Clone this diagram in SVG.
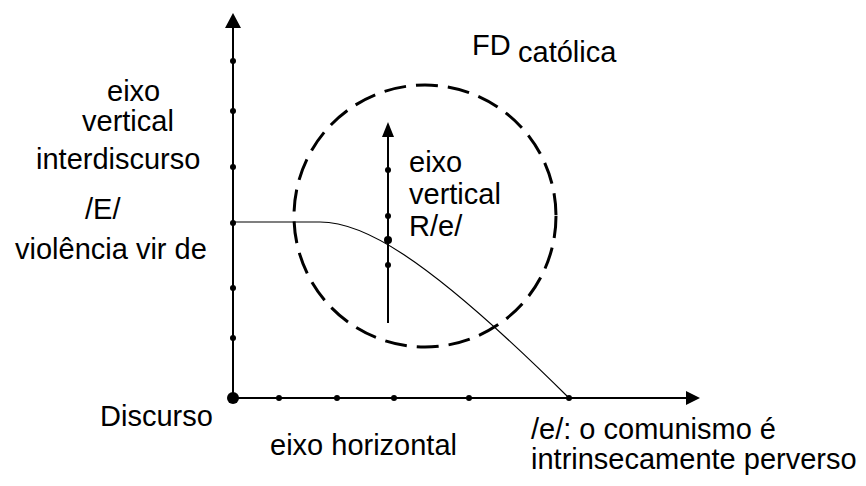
<svg xmlns="http://www.w3.org/2000/svg" width="866" height="486" viewBox="0 0 866 486">
<style>
text{font-family:"Liberation Sans",Arial,sans-serif;font-size:29px;fill:#000}
.axis{stroke:#000;stroke-width:2;fill:none}
.dot{fill:#000}
</style>
<rect width="866" height="486" fill="#fff"/>
<g id="connectors">
<line class="axis" x1="233" y1="398" x2="233" y2="26"/>
<polygon points="233,13 225,28 241,28" fill="#000"/>
<line class="axis" x1="233" y1="398" x2="688" y2="398"/>
<polygon points="700,398 686,391 686,405" fill="#000"/>
<line class="axis" x1="388" y1="323" x2="388" y2="134"/>
<polygon points="388,122 382,137 394,137" fill="#000"/>
<path d="M233,222 L320,222 C360,222 420,250 569,398" fill="none" stroke="#000" stroke-width="1.2"/>
</g>
<g id="circle-fd">
<circle cx="425" cy="216" r="131" fill="none" stroke="#000" stroke-width="3" stroke-dasharray="22 10"/>
</g>
<g id="dots">
<circle class="dot" cx="233" cy="61" r="3"/>
<circle class="dot" cx="233" cy="111" r="3"/>
<circle class="dot" cx="233" cy="167" r="3"/>
<circle class="dot" cx="233" cy="223" r="3"/>
<circle class="dot" cx="233" cy="288" r="3"/>
<circle class="dot" cx="233" cy="338" r="3"/>
<circle class="dot" cx="233" cy="398" r="6"/>
<circle class="dot" cx="279" cy="398" r="3"/>
<circle class="dot" cx="337" cy="398" r="3"/>
<circle class="dot" cx="394" cy="398" r="3"/>
<circle class="dot" cx="469" cy="398" r="3"/>
<circle class="dot" cx="569" cy="398" r="3"/>
<circle class="dot" cx="388" cy="170" r="3"/>
<circle class="dot" cx="388" cy="216" r="3"/>
<circle class="dot" cx="388" cy="240" r="4"/>
<circle class="dot" cx="388" cy="265" r="3"/>
</g>
<g id="label-left">
<text x="107" y="101">eixo</text>
<text x="82" y="131">vertical</text>
<text x="36" y="169">interdiscurso</text>
<text x="85" y="219">/E/</text>
<text x="15" y="259">violência vir de</text>
</g>
<g id="label-fd">
<text x="472" y="55">FD</text>
<text x="518" y="62">católica</text>
</g>
<g id="label-inner">
<text x="409" y="172">eixo</text>
<text x="409" y="204">vertical</text>
<text x="409" y="236">R/e/</text>
</g>
<g id="label-discurso">
<text x="100" y="426">Discurso</text>
</g>
<g id="label-horizontal">
<text x="270" y="455">eixo horizontal</text>
</g>
<g id="label-e">
<text x="531" y="439">/e/: o comunismo é</text>
<text x="531" y="469">intrinsecamente perverso</text>
</g>
</svg>
